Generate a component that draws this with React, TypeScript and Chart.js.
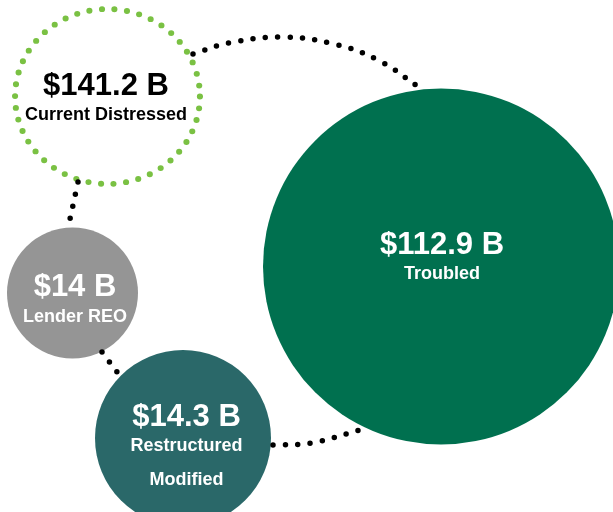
import React, { useEffect, useRef } from "react";
import { Chart, registerables } from "chart.js";

Chart.register(...registerables);

// ---- data ----
const categories = ["Current Distressed", "Troubled", "Lender REO", "Restructured Modified"];
const categoryLines = [["Current Distressed"], ["Troubled"], ["Lender REO"], ["Restructured", "Modified"]];
const values = [141.2, 112.9, 14, 14.3];
const valueLabels = ["$141.2 B", "$112.9 B", "$14 B", "$14.3 B"];
// bubble placement (diagram coordinates) and radius
const bubbleX = [107.5, 441, 72.5, 183];
const bubbleY = [96.5, 266.5, 293, 438];
const bubbleR = [90, 178, 65.5, 88];

// dotted connectors
const link1X = [193, 229, 280, 330, 378, 420];
const link1Y = [54, 43, 37, 43, 60, 88];
const link2X = [78, 70];
const link2Y = [182, 219];
const link3X = [102, 117];
const link3Y = [352, 372];
const link4X = [273, 311, 360];
const link4Y = [445, 443, 430];

// ---- style ----
const RING_GREEN = "#7AC143";
const RING_SCALE_X = 1.027;
const RING_SCALE_Y = 0.972;
const FILL_COLORS = ["#00704F", "#959595", "#2A6869"];
const TEXT_COLORS = ["#000000", "#FFFFFF", "#FFFFFF", "#FFFFFF"];
const TEXT_X = [106, 442, 75, 186.5];
const VALUE_MID_Y = [84, 243, 285, 415];
const LABEL_MID_Y = [113.5, 273, 315.5, 445];
const LABEL_LINE_H = 33.5;
const FONT = '"Liberation Sans", Arial, sans-serif';

const pts = (xs: number[], ys: number[]) => xs.map((x, i) => ({ x, y: ys[i] }));

const linkDataset = (xs: number[], ys: number[]) => ({
  type: "line" as const,
  data: pts(xs, ys),
  borderColor: "#000000",
  borderWidth: 5.5,
  borderDash: [0, 12.4],
  borderCapStyle: "round" as const,
  pointRadius: 0,
  tension: 0.4,
  fill: false,
  clip: false as any,
  order: 0,
});

export default function App() {
  const ref = useRef<HTMLCanvasElement | null>(null);

  useEffect(() => {
    if (!ref.current) return;

    const ringPlugin = {
      id: "ringDash",
      beforeDatasetDraw(chart: any, args: any) {
        if (args.index === 4) {
          const ctx = chart.ctx;
          const el = args.meta.data[0];
          ctx.save();
          ctx.translate(el.x, el.y);
          ctx.scale(RING_SCALE_X, RING_SCALE_Y);
          ctx.translate(-el.x, -el.y);
          const r = bubbleR[0];
          ctx.setLineDash([0, (2 * Math.PI * r) / 46]);
          ctx.lineCap = "round";
        }
      },
      afterDatasetDraw(chart: any, args: any) {
        if (args.index === 4) chart.ctx.restore();
      },
    };

    const labelPlugin = {
      id: "bubbleLabels",
      afterDatasetsDraw(chart: any) {
        const ctx = chart.ctx;
        ctx.save();
        ctx.textAlign = "center";
        ctx.textBaseline = "alphabetic";
        for (let i = 0; i < categories.length; i++) {
          ctx.fillStyle = TEXT_COLORS[i];
          ctx.font = `bold 31px ${FONT}`;
          ctx.fillText(valueLabels[i], TEXT_X[i], VALUE_MID_Y[i] + 31 * 0.35);
          ctx.font = `bold 18px ${FONT}`;
          categoryLines[i].forEach((line, j) => {
            ctx.fillText(line, TEXT_X[i], LABEL_MID_Y[i] + j * LABEL_LINE_H + 18 * 0.35);
          });
        }
        ctx.restore();
      },
    };

    const chart = new Chart(ref.current, {
      type: "bubble",
      data: {
        datasets: [
          linkDataset(link1X, link1Y),
          linkDataset(link2X, link2Y),
          linkDataset(link3X, link3Y),
          linkDataset(link4X, link4Y),
          {
            type: "bubble",
            label: categories[0],
            data: [{ x: bubbleX[0], y: bubbleY[0], r: bubbleR[0], v: values[0] } as any],
            backgroundColor: "rgba(255,255,255,0)",
            borderColor: RING_GREEN,
            borderWidth: 6,
            clip: false as any,
            order: 1,
          },
          {
            type: "bubble",
            label: "filled",
            data: [1, 2, 3].map((i) => ({ x: bubbleX[i], y: bubbleY[i], r: bubbleR[i], v: values[i] } as any)),
            backgroundColor: FILL_COLORS,
            borderWidth: 0,
            clip: false as any,
            order: 1,
          },
        ] as any,
      },
      options: {
        responsive: false,
        animation: false,
        events: [],
        layout: { padding: 0, autoPadding: false },
        plugins: { legend: { display: false }, tooltip: { enabled: false } },
        scales: {
          x: { type: "linear", min: 0, max: 613, display: false },
          y: { type: "linear", min: 0, max: 512, reverse: true, display: false },
        },
      },
      plugins: [ringPlugin, labelPlugin],
    });

    return () => chart.destroy();
  }, []);

  return (
    <div style={{ position: "absolute", left: 0, top: 0, width: 613, height: 512, background: "#fff" }}>
      <canvas ref={ref} width={613} height={512} />
    </div>
  );
}
